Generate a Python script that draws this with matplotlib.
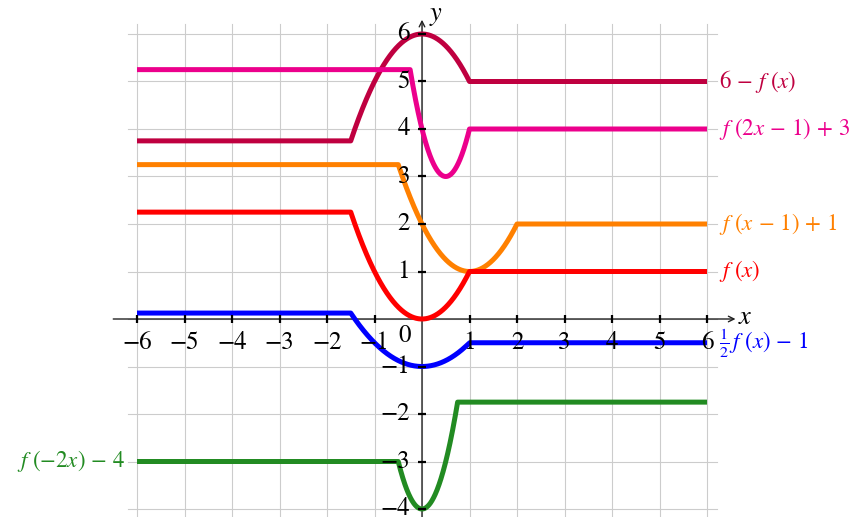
import matplotlib
matplotlib.use('Agg')
import matplotlib.pyplot as plt
import numpy as np

plt.rcParams['mathtext.fontset'] = 'stix'
plt.rcParams['font.family'] = 'STIXGeneral'

# base function: flat left, parabola in the middle, flat right
f_left, f_right = -1.5, 1.0          # breakpoints of the parabolic part

def f(x):
    x = np.asarray(x, dtype=float)
    return np.clip(x, f_left, f_right) ** 2

# transformed curves: (label, colour, function)
labels = [r'$6\,-\,f\,\,(x)$', r'$f\,\,(2x\,-\,1)\,+\,3$', r'$f\,\,(x\,-\,1)\,+\,1$',
          r'$f\,\,(x)$', r'$\frac{1}{2}\,f\,\,(x)\,-\,1$', r'$f\,\,(-2x)\,-\,4$']
colors = ['#BF0040', '#EC008C', '#FF8000', '#FF0000', '#0000FF', '#228B22']
funcs = [lambda x: 6 - f(x),
         lambda x: f(2 * x - 1) + 3,
         lambda x: f(x - 1) + 1,
         lambda x: f(x),
         lambda x: 0.5 * f(x) - 1,
         lambda x: f(-2 * x) - 4]
label_side = ['right', 'right', 'right', 'right', 'right', 'left']

x_ticks = [-6, -5, -4, -3, -2, -1, 1, 2, 3, 4, 5, 6]
y_ticks = [-4, -3, -2, -1, 1, 2, 3, 4, 5, 6]

W, H, dpi = 851, 517, 100
fig = plt.figure(figsize=(W / dpi, H / dpi), dpi=dpi)
ax = fig.add_axes([0, 0, 1, 1])
ax.axis('off')

# unit = 47.5 px, origin at pixel (422, 319)
unit, ox, oy = 47.5, 422, 319
ax.set_xlim(-ox / unit, (W - ox) / unit)
ax.set_ylim(-(H - oy) / unit, oy / unit)

# grid
for gx in range(-6, 7):
    ax.plot([gx, gx], [-4.2, 6.2], color='#cccccc', lw=0.8, zorder=1)
for gy in range(-4, 7):
    ax.plot([-6.2, 6.2], [gy, gy], color='#cccccc', lw=0.8, zorder=1)

# axes with arrows
ax.annotate('', xy=(6.6, 0), xytext=(-6.5, 0),
            arrowprops=dict(arrowstyle='->', color='#222222', lw=1.0,
                            shrinkA=0, shrinkB=0), zorder=2)
ax.annotate('', xy=(0, 6.3), xytext=(0, -4.3),
            arrowprops=dict(arrowstyle='->', color='#222222', lw=1.0,
                            shrinkA=0, shrinkB=0), zorder=2)

# curves
xs = np.linspace(-6, 6, 2401)
for lab, col, fn, side in zip(labels, colors, funcs, label_side):
    ys = fn(xs)
    ax.plot(xs, ys, color=col, lw=3.6, solid_capstyle='butt', zorder=3)
    if side == 'right':
        ax.text(6.25, ys[-1], lab, color=col, fontsize=16.5,
                ha='left', va='center', zorder=5)
    else:
        ax.text(-6.25, ys[0], lab, color=col, fontsize=16.5,
                ha='right', va='center', zorder=5)

# ticks and tick labels
ax.plot(x_ticks, np.zeros(len(x_ticks)), ls='none', marker='|',
        ms=6, mew=1.6, color='black', zorder=4)
ax.plot(np.zeros(len(y_ticks)), y_ticks, ls='none', marker='_',
        ms=6, mew=1.6, color='black', zorder=4)
for t in x_ticks:
    lab = str(t).replace('-', '\u2212')
    ax.text(t, -0.5, lab, fontsize=18, ha='center', va='center', zorder=4)
for t in y_ticks:
    lab = str(t).replace('-', '\u2212')
    ax.text(-0.25, t, lab, fontsize=18, ha='right', va='center', zorder=4)
ax.text(-0.36, -0.36, '0', fontsize=18, ha='center', va='center', zorder=4)

ax.text(6.8, 0.02, r'$x$', fontsize=19, ha='center', va='center')
ax.text(0.3, 6.38, r'$y$', fontsize=19, ha='center', va='center')

fig.savefig('out.png', dpi=dpi)
